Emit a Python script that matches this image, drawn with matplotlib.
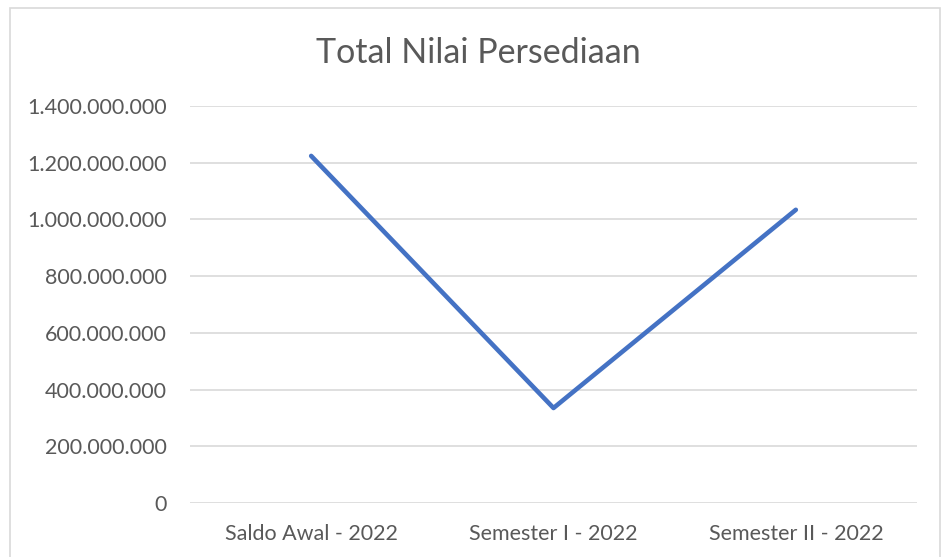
import matplotlib.pyplot as plt
from matplotlib.patches import Rectangle
from matplotlib.ticker import FuncFormatter, MultipleLocator

# data
categories = ['Saldo Awal - 2022', 'Semester I - 2022', 'Semester II - 2022']
values = [1224000000, 335000000, 1034000000]

plt.rcParams['font.family'] = ['Lato', 'DejaVu Sans']

fig = plt.figure(figsize=(9.42, 5.57), dpi=100)
ax = fig.add_axes([190/942, 1 - 503/557, (917-190)/942, (503-106)/557])

# chart border like excel
fig.patches.append(Rectangle((10/942, -0.01), (940-10)/942, 1 - 8/557 + 0.01,
                             transform=fig.transFigure, fill=False,
                             edgecolor='#d9d9d9', linewidth=1.2))

x = range(len(categories))
ax.plot(x, values, color='#4472C4', linewidth=3.3, solid_capstyle='round')

ax.set_xlim(-0.5, 2.5)
ax.set_ylim(0, 1400000000)
ax.yaxis.set_major_locator(MultipleLocator(200000000))
ax.yaxis.set_major_formatter(FuncFormatter(lambda v, _: f'{int(v):,}'.replace(',', '.')))
ax.set_xticks(list(x))
ax.set_xticklabels(categories)

ax.grid(axis='y', color='#d9d9d9', linewidth=1.2)
ax.set_axisbelow(True)
for s in ax.spines.values():
    s.set_visible(False)
ax.tick_params(length=0, labelsize=15.5, colors='#595959')
ax.tick_params(axis='y', pad=16.5)
ax.tick_params(axis='x', pad=15)

fig.text(478/942, 1 - 53/557, 'Total Nilai Persediaan', ha='center', va='center',
         fontsize=24.5, color='#595959')

fig.savefig('out.png', dpi=100)
